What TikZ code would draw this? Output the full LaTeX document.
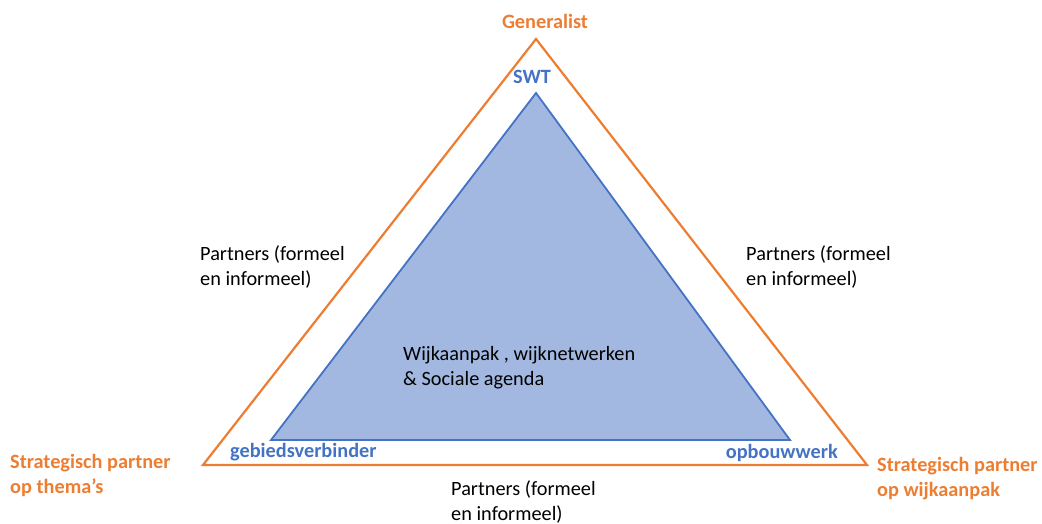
\documentclass[tikz,border=0pt]{standalone}
\usepackage{fontspec}
\setmainfont{Carlito}
\definecolor{orng}{HTML}{ED7D31}
\definecolor{blu}{HTML}{4472C4}
\definecolor{bluefill}{HTML}{A2B8E1}
\begin{document}
\begin{tikzpicture}[x=1pt,y=-1pt,
  txt/.style={inner sep=0pt,align=left,font=\fontsize{20.3}{25}\selectfont},
  otxt/.style={txt,text=orng,font=\fontsize{20.3}{25}\selectfont\bfseries},
  btxt/.style={txt,text=blu,font=\fontsize{20.3}{25}\selectfont\bfseries}]
\useasboundingbox (0,0) rectangle (1042,524);
\coordinate (oA) at (536,39);
\coordinate (oL) at (203,465);
\coordinate (oR) at (867,465);
\coordinate (bA) at (536,93);
\coordinate (bL) at (271,440);
\coordinate (bR) at (790,440);
\draw[orng,line width=2.2pt,line join=miter] (oA) -- (oL) -- (oR) -- cycle;
\draw[blu,fill=bluefill,line width=1.8pt,line join=miter] (bA) -- (bL) -- (bR) -- cycle;
\node[otxt] (gen) at (545,21) {Generalist};
\node[btxt] (swt) at (532,77) {SWT};
\node[btxt,anchor=west] (geb) at (230,452) {gebiedsverbinder};
\node[btxt,anchor=east] (opb) at (838,453) {opbouwwerk};
\node[otxt,anchor=west] (spt) at (10,475) {Strategisch partner\\op thema’s};
\node[otxt,anchor=west] (spw) at (877,479) {Strategisch partner\\op wijkaanpak};
\node[txt,anchor=west] (pl) at (200,266.5) {Partners (formeel\\en informeel)};
\node[txt,anchor=west] (pr) at (746,266.5) {Partners (formeel\\en informeel)};
\node[txt,anchor=west] (pb) at (451,502) {Partners (formeel\\en informeel)};
\node[txt,anchor=west] (mid) at (403,368) {Wijkaanpak , wijknetwerken\\\& Sociale agenda};
\end{tikzpicture}
\end{document}
